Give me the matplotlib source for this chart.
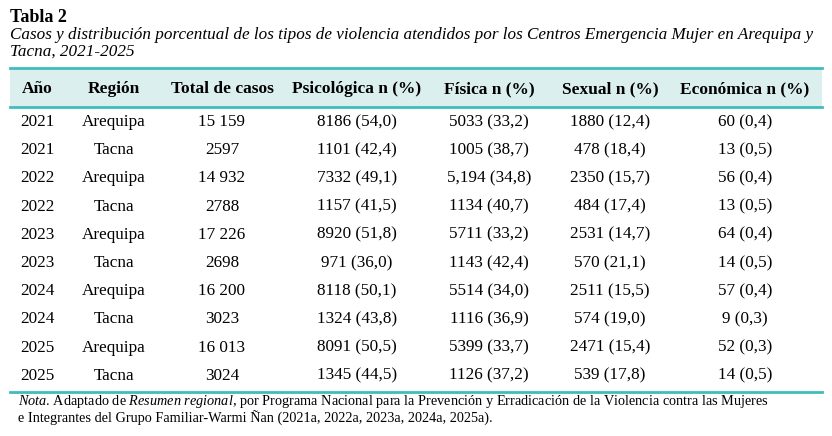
import matplotlib.pyplot as plt
from matplotlib.patches import Rectangle
from matplotlib.lines import Line2D

plt.rcParams["font.family"] = ["Liberation Serif", "DejaVu Serif"]
plt.rcParams["mathtext.fontset"] = "custom"
plt.rcParams["mathtext.rm"] = "Liberation Serif"
plt.rcParams["mathtext.it"] = "Liberation Serif:italic"

# ---- datos ----
anios = ["2021", "2021", "2022", "2022", "2023", "2023", "2024", "2024", "2025", "2025"]
regiones = ["Arequipa", "Tacna"] * 5
totales = ["15 159", "2597", "14 932", "2788", "17 226", "2698", "16 200", "3023", "16 013", "3024"]
psicologica = ["8186 (54,0)", "1101 (42,4)", "7332 (49,1)", "1157 (41,5)", "8920 (51,8)",
               "971 (36,0)", "8118 (50,1)", "1324 (43,8)", "8091 (50,5)", "1345 (44,5)"]
fisica = ["5033 (33,2)", "1005 (38,7)", "5,194 (34,8)", "1134 (40,7)", "5711 (33,2)",
          "1143 (42,4)", "5514 (34,0)", "1116 (36,9)", "5399 (33,7)", "1126 (37,2)"]
sexual = ["1880 (12,4)", "478 (18,4)", "2350 (15,7)", "484 (17,4)", "2531 (14,7)",
          "570 (21,1)", "2511 (15,5)", "574 (19,0)", "2471 (15,4)", "539 (17,8)"]
economica = ["60 (0,4)", "13 (0,5)", "56 (0,4)", "13 (0,5)", "64 (0,4)",
             "14 (0,5)", "57 (0,4)", "9 (0,3)", "52 (0,3)", "14 (0,5)"]
encabezados = ["Año", "Región", "Total de casos", "Psicológica n (%)",
               "Física n (%)", "Sexual n (%)", "Económica n (%)"]

W, H = 832, 436
fig = plt.figure(figsize=(W / 100, H / 100), dpi=100)
ax = fig.add_axes([0, 0, 1, 1])
ax.set_xlim(0, W)
ax.set_ylim(H, 0)
ax.axis("off")

teal = "#3fbcbc"
ax.add_patch(Rectangle((10, 68), 812, 39, color="#dcefef", lw=0))
for y in (68, 107, 392):
    ax.add_line(Line2D([10, 822], [y, y], color=teal, lw=2))

ax.text(10, 17, "Tabla 2", fontsize=13, weight="bold", va="center")
ax.text(10, 35, "Casos y distribución porcentual de los tipos de violencia atendidos por los "
        "Centros Emergencia Mujer en Arequipa y", fontsize=12.3, style="italic", va="center")
ax.text(10, 52, "Tacna, 2021-2025", fontsize=12.3, style="italic", va="center")

xs = [37, 114, 222, 357, 489, 610, 745]
for x, h in zip(xs, encabezados):
    ax.text(x, 89, h, fontsize=12.5, weight="bold", ha="center", va="center")

columnas = [anios, regiones, totales, psicologica, fisica, sexual, economica]
for i in range(len(anios)):
    y = 122 + i * 28.2
    for x, col in zip(xs, columnas):
        ax.text(x, y, col[i], fontsize=12.3, ha="center", va="center")

ax.text(18, 401, "$\\it{Nota}$. Adaptado de $\\it{Resumen\\ regional}$, por Programa Nacional para la "
        "Prevención y Erradicación de la Violencia contra las Mujeres",
        fontsize=10.3, va="center")
ax.text(18, 418, "e Integrantes del Grupo Familiar-Warmi Ñan (2021a, 2022a, 2023a, 2024a, 2025a).",
        fontsize=10.3, va="center")

fig.savefig("out.png", dpi=100)
